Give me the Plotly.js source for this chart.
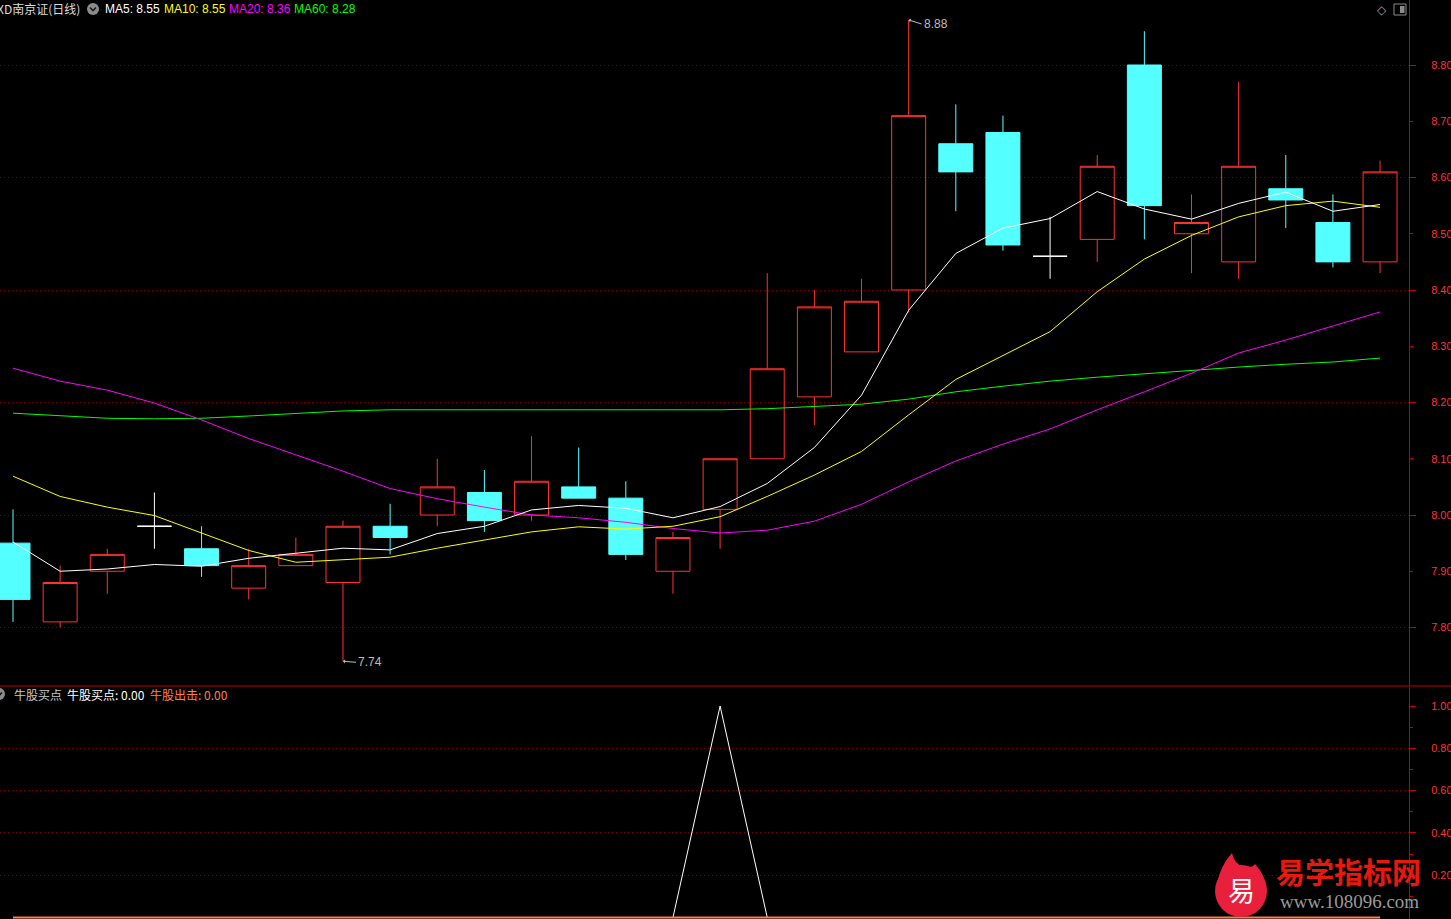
<!DOCTYPE html>
<html>
<head>
<meta charset="utf-8">
<script src="https://cdn.plot.ly/plotly-3.0.1.min.js"></script>
<style>
html,body{margin:0;padding:0;background:#000;overflow:hidden;}
#chart{width:1451px;height:919px;}
</style>
</head>
<body>
<div id="chart"></div>
<script>
// ---- data (30 daily bars) ----
const bars  = [0,1,2,3,4,5,6,7,8,9,10,11,12,13,14,15,16,17,18,19,20,21,22,23,24,25,26,27,28,29];
const open  = [7.95,7.81,7.90,7.98,7.94,7.87,7.91,7.88,7.98,8.00,8.04,8.00,8.05,8.03,7.90,8.01,8.10,8.21,8.29,8.40,8.66,8.68,8.46,8.49,8.80,8.50,8.45,8.58,8.52,8.45];
const high  = [8.01,7.91,7.94,8.04,7.98,7.94,7.96,7.99,8.02,8.10,8.08,8.14,8.12,8.06,7.97,8.10,8.43,8.40,8.42,8.88,8.73,8.71,8.53,8.64,8.86,8.57,8.77,8.64,8.57,8.63];
const low   = [7.81,7.80,7.86,7.94,7.89,7.85,7.91,7.74,7.93,7.98,7.97,7.99,8.03,7.92,7.86,7.94,8.10,8.16,8.29,8.36,8.54,8.47,8.42,8.45,8.49,8.43,8.42,8.51,8.44,8.43];
const close = [7.85,7.88,7.93,7.98,7.91,7.91,7.93,7.98,7.96,8.05,7.99,8.06,8.03,7.93,7.96,8.10,8.26,8.37,8.38,8.71,8.61,8.48,8.46,8.62,8.55,8.52,8.62,8.56,8.45,8.61];

const ma5   = [7.952,7.900,7.904,7.912,7.909,7.923,7.932,7.941,7.938,7.967,7.980,8.009,8.017,8.012,7.995,8.015,8.056,8.120,8.213,8.364,8.465,8.510,8.527,8.575,8.544,8.526,8.554,8.574,8.540,8.552];
const ma10  = [8.069,8.033,8.014,7.999,7.968,7.937,7.916,7.921,7.925,7.941,7.956,7.970,7.979,7.975,7.980,7.997,8.033,8.071,8.113,8.178,8.241,8.284,8.326,8.397,8.455,8.497,8.530,8.550,8.558,8.547];
const ma20  = [8.261,8.238,8.222,8.199,8.169,8.136,8.107,8.078,8.047,8.029,8.014,8.000,7.995,7.987,7.976,7.968,7.973,7.989,8.019,8.059,8.096,8.126,8.153,8.187,8.219,8.252,8.288,8.311,8.336,8.361];
const ma60  = [8.181,8.176,8.172,8.171,8.172,8.176,8.181,8.185,8.187,8.187,8.187,8.187,8.187,8.187,8.187,8.187,8.189,8.193,8.197,8.206,8.219,8.229,8.238,8.245,8.251,8.258,8.263,8.268,8.272,8.279];

const buySignal  = [0,0,0,0,0,0,0,0,0,0,0,0,0,0,0,1,0,0,0,0,0,0,0,0,0,0,0,0,0,0];
const exitSignal = [0,0,0,0,0,0,0,0,0,0,0,0,0,0,0,0,0,0,0,0,0,0,0,0,0,0,0,0,0,0];

const priceTicks = [7.8,7.9,8.0,8.1,8.2,8.3,8.4,8.5,8.6,8.7,8.8];
const priceGrid  = [7.8,8.0,8.2,8.4,8.6,8.8];
const subMinor   = [0.1,0.3,0.5,0.7,0.9];
const subLabels  = [0.2,0.4,0.6,0.8,1.0];
const subGrid    = [0.2,0.4,0.6,0.8];

// ---- colours ----
const UP = '#ff3232', DOWN = '#54ffff', AXIS = '#c40000', GRID = '#800000', TXT = '#ff3232';
const W = 1451, H = 919;
const X = x => x / W, Y = y => 1 - y / H;

function pick(cond){
  const o = {x:[],open:[],high:[],low:[],close:[]};
  bars.forEach(i => { if(cond(i)){ o.x.push(i); o.open.push(open[i]); o.high.push(high[i]); o.low.push(low[i]); o.close.push(close[i]); }});
  return o;
}
function candle(sel, colUp, fillUp, colDn, fillDn){
  return {type:'candlestick', x:sel.x, open:sel.open, high:sel.high, low:sel.low, close:sel.close,
    xaxis:'x', yaxis:'y', hoverinfo:'skip', showlegend:false, whiskerwidth:0,
    increasing:{line:{color:colUp,width:1}, fillcolor:fillUp},
    decreasing:{line:{color:colDn,width:1}, fillcolor:fillDn}};
}
const upSel = pick(i => close[i] > open[i]);
const dnSel = pick(i => close[i] < open[i]);
const djSel = pick(i => close[i] === open[i]);

function line(y, color, ax){ return {type:'scatter', mode:'lines', x:bars, y:y, xaxis:'x', yaxis:ax||'y',
  line:{color:color,width:1}, hoverinfo:'skip', showlegend:false}; }

const traces = [
  candle(upSel, UP, 'rgba(0,0,0,0)', UP, 'rgba(0,0,0,0)'),
  candle(dnSel, DOWN, DOWN, DOWN, DOWN),
  candle(djSel, '#ffffff', '#ffffff', '#ffffff', '#ffffff'),
  line(ma60, '#00ff00'),
  line(ma20, '#ff00ff'),
  line(ma10, '#ffff00'),
  line(ma5, '#ffffff'),
  line(buySignal, '#ffffff', 'y2'),
  Object.assign(line(exitSignal, '#ff8040', 'y2'), {line:{color:'#ff8040',width:2}}),
  {type:'scatter', x:[null], y:[null], yaxis:'y3', showlegend:false, hoverinfo:'skip'},
  {type:'scatter', x:[null], y:[null], yaxis:'y4', showlegend:false, hoverinfo:'skip'},
  {type:'scatter', x:[null], y:[null], yaxis:'y5', showlegend:false, hoverinfo:'skip'}
];

const topDomain = [1 - 686/H, 1];
const topRange  = [8.80 - 621/562.5, 8.80 + 65/562.5];
const botDomain = [0, 232/H];
const botRange  = [-1.5/211, 1 + 19/211];
const fontNum = 'Liberation Sans, Arial, Noto Sans CJK SC, sans-serif';
const fontCJK = 'Noto Sans CJK SC, Liberation Sans, sans-serif';

const baseY = {side:'right', anchor:'x', fixedrange:true, zeroline:false, showgrid:false};

const layout = {
  width:W, height:H, paper_bgcolor:'#000', plot_bgcolor:'#000',
  margin:{l:0,r:0,t:0,b:0,pad:0}, showlegend:false, hovermode:false,
  boxmode:'overlay', boxgap:0.279, boxgroupgap:0,
  xaxis:{domain:[0, 1409/W], range:[-13/47.14, (1409-13)/47.14], showgrid:false, zeroline:false,
         showline:false, showticklabels:false, ticks:'', rangeslider:{visible:false}, fixedrange:true},
  yaxis:Object.assign({}, baseY, {domain:topDomain, range:topRange, tickmode:'array', tickvals:priceTicks,
         tickformat:'.2f', ticks:'outside', ticklen:3, tickcolor:AXIS, showline:true, linecolor:AXIS, linewidth:1,
         tickfont:{family:fontNum, size:11, color:TXT}, ticklabelstandoff:16}),
  yaxis3:Object.assign({}, baseY, {overlaying:'y', range:topRange, tickmode:'array', tickvals:priceGrid,
         ticks:'outside', ticklen:6, tickcolor:AXIS, showticklabels:false, showgrid:true, gridcolor:GRID,
         griddash:'1px,3px', gridwidth:1, showline:false}),
  yaxis2:Object.assign({}, baseY, {domain:botDomain, range:botRange, tickmode:'array', tickvals:subMinor,
         ticks:'outside', ticklen:3, tickcolor:AXIS, showticklabels:false, showline:true, linecolor:AXIS, linewidth:1}),
  yaxis4:Object.assign({}, baseY, {overlaying:'y2', range:botRange, tickmode:'array', tickvals:subLabels,
         tickformat:'.2f', ticks:'outside', ticklen:6, tickcolor:AXIS, showline:false,
         tickfont:{family:fontNum, size:11, color:TXT}, ticklabelstandoff:13}),
  yaxis5:Object.assign({}, baseY, {overlaying:'y2', range:botRange, tickmode:'array', tickvals:subGrid,
         ticks:'', showticklabels:false, showgrid:true, gridcolor:GRID, griddash:'1px,3px', showline:false}),
  shapes:[], annotations:[]
};

// separator between panels
layout.shapes.push({type:'line', xref:'paper', yref:'paper', x0:0, x1:1, y0:Y(686), y1:Y(686), line:{color:AXIS,width:1}, layer:'above'});
// legend icons
function iconCircle(cx, cy){
  layout.shapes.push({type:'circle', xref:'paper', yref:'paper', x0:X(cx-6), x1:X(cx+6), y0:Y(cy+6), y1:Y(cy-6),
    fillcolor:'#8c8c8c', line:{width:0}, layer:'above'});
  layout.shapes.push({type:'path', xref:'paper', yref:'paper',
    path:`M ${X(cx-3)} ${Y(cy-1.5)} L ${X(cx)} ${Y(cy+1.5)} L ${X(cx+3)} ${Y(cy-1.5)}`,
    line:{color:'#1a1a1a', width:1.6}, layer:'above'});
}
iconCircle(93, 9);
iconCircle(-1, 694);
// top-right toggle icon
layout.shapes.push({type:'rect', xref:'paper', yref:'paper', x0:X(1394), x1:X(1406), y0:Y(15), y1:Y(4), line:{color:'#8c8c8c',width:1}, layer:'above'});
layout.shapes.push({type:'rect', xref:'paper', yref:'paper', x0:X(1400), x1:X(1404.5), y0:Y(13), y1:Y(6), fillcolor:'#8c8c8c', line:{width:0}, layer:'above'});

function label(txt, x, y, color, font, size, extra){
  layout.annotations.push(Object.assign({text:txt, xref:'paper', yref:'paper', x:X(x), y:Y(y),
    xanchor:'left', yanchor:'middle', showarrow:false, font:{family:font||fontCJK, size:size||12, color:color}}, extra||{}));
}
const last = a => a[a.length-1].toFixed(2);
label('XD南京证(日线)', -5, 9, '#dcdcdc', fontCJK, 12);
label('MA5: ' + last(ma5), 103, 9, '#ffffff', fontNum, 12);
label('MA10: ' + last(ma10), 162, 9, '#ffff00', fontNum, 12);
label('MA20: ' + last(ma20), 227, 9, '#ff00ff', fontNum, 12);
label('MA60: ' + last(ma60), 292, 9, '#00ff00', fontNum, 12);
label('◇', 1375, 10, '#9a9a9a', 'DejaVu Sans', 12);
label('牛股买点', 12, 694, '#c8c8c8', fontCJK, 12);
label('牛股买点: ' + last(buySignal), 65, 694, '#ffffff', fontCJK, 12);
label('牛股出击: ' + last(exitSignal), 148, 694, '#ff8040', fontCJK, 12);

// extreme markers
const hiIdx = high.indexOf(Math.max(...high));
const loIdx = low.indexOf(Math.min(...low));
function extreme(i, v, ay){
  layout.annotations.push({x:bars[i], y:v, xref:'x', yref:'y', text:v.toFixed(2), showarrow:true,
    arrowhead:1, arrowsize:0.7, arrowwidth:1, arrowcolor:'#bdbdbd', ax:13, ay:ay, xanchor:'left', yanchor:'middle',
    font:{family:fontNum, size:12, color:'#bdbdbd'}});
}
extreme(hiIdx, high[hiIdx], 4);
extreme(loIdx, low[loIdx], 1);

// watermark
layout.shapes.push({type:'circle', xref:'paper', yref:'paper', x0:X(1215), x1:X(1267), y0:Y(917), y1:Y(865), fillcolor:'#e8203c', line:{width:0}, layer:'above'});
layout.shapes.push({type:'path', xref:'paper', yref:'paper', fillcolor:'#e8203c', line:{width:0}, layer:'above',
  path:`M ${X(1217)} ${Y(884)} Q ${X(1220)} ${Y(866)} ${X(1232)} ${Y(853)} Q ${X(1234)} ${Y(864)} ${X(1244)} ${Y(867)} Q ${X(1252)} ${Y(868)} ${X(1255)} ${Y(864)} Q ${X(1266)} ${Y(876)} ${X(1266)} ${Y(888)} Z`});
layout.annotations.push({text:'易', xref:'paper', yref:'paper', x:X(1241), y:Y(889), xanchor:'center', yanchor:'middle', showarrow:false,
  font:{family:fontCJK, size:27, color:'#ffffff'}});
layout.annotations.push({text:'<b>易学指标网</b>', xref:'paper', yref:'paper', x:X(1348), y:Y(871), xanchor:'center', yanchor:'middle', showarrow:false,
  font:{family:fontCJK, size:29, color:'#e8180c'}});
layout.annotations.push({text:'www.108096.com', xref:'paper', yref:'paper', x:X(1349), y:Y(901), xanchor:'center', yanchor:'middle', showarrow:false,
  font:{family:'Liberation Serif, DejaVu Serif, serif', size:19, color:'#9a9a9a'}});

Plotly.newPlot('chart', traces, layout, {staticPlot:true, displayModeBar:false});
</script>
</body>
</html>
